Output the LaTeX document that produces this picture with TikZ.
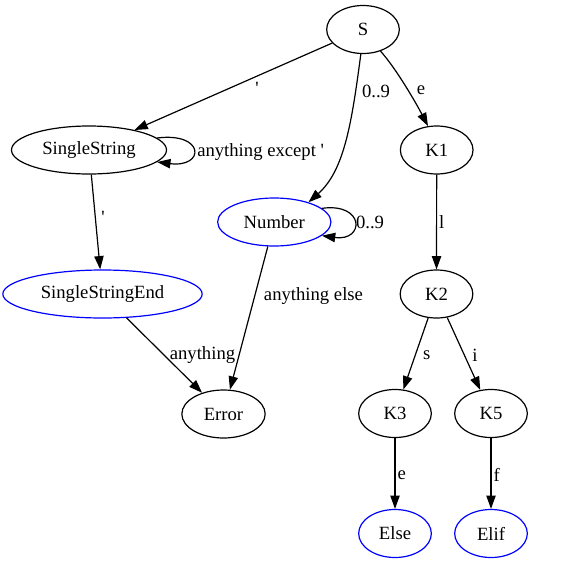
\documentclass[tikz,border=0pt]{standalone}
\usepackage{fontspec}
\setmainfont{Liberation Serif}[Ligatures=TeXOff]
\usetikzlibrary{shapes.geometric,arrows.meta}
\begin{document}
\begin{tikzpicture}[x=0.75pt,y=-0.75pt,
  st/.style={ellipse,draw=black,line width=0.9pt,inner sep=0pt,minimum height=36pt,font=\fontsize{14}{16}\selectfont},
  acc/.style={st,draw=blue},
  lab/.style={inner sep=0pt,font=\fontsize{14}{16}\selectfont},
  edge/.style={draw,line width=0.9pt,-{Triangle[length=10pt,width=7pt]}}]
\useasboundingbox (0,0) rectangle (568,568);
% states
\node[st,minimum width=54.5pt] (S) at (363,29.5) {S};
\node[st,minimum width=116.25pt] (SingleString) at (89,150) {SingleString};
\node[st,minimum width=54.5pt] (K1) at (436.7,150) {K1};
\node[acc,minimum width=85pt] (Number) at (274.3,222) {Number};
\node[acc,minimum width=149.5pt] (SingleStringEnd) at (102.5,294) {SingleStringEnd};
\node[st,minimum width=54.5pt] (K2) at (436.5,294) {K2};
\node[st,minimum width=62.5pt] (Error) at (223.5,414) {Error};
\node[st,minimum width=54.5pt] (K3) at (395,413.5) {K3};
\node[st,minimum width=54.5pt] (K5) at (491,413.5) {K5};
\node[acc,minimum width=54.5pt] (Else) at (395,533.5) {Else};
\node[acc,minimum width=54.5pt] (Elif) at (491,533.5) {Elif};
% transitions
\draw[edge] (S) -- (SingleString);
\draw[edge] (SingleString.10) .. controls +(48,-6) and +(48,6) .. (SingleString.-10);
\draw[edge] (S.265) .. controls (352,120) and (345,170) .. (Number.30);
\draw[edge] (S.-51) .. controls (396.7,69.2) and (416.8,104.4) .. (K1.110);
\draw[edge] (SingleString) -- (SingleStringEnd);
\draw[edge] (Number.16) .. controls +(43,-6) and +(43,6) .. (Number.-16);
\draw[edge] (Number) -- (Error);
\draw[edge] (SingleStringEnd) -- (Error);
\draw[edge] (K1) -- (K2);
\draw[edge] (K2) -- (K3);
\draw[edge] (K2) -- (K5);
\draw[edge] (K3) -- (Else);
\draw[edge] (K5) -- (Elif);
% labels
\node[lab] (l1) at (257,88) {'};
\node[lab,anchor=west] (l2) at (197,152) {anything except '};
\node[lab] (l3) at (376,91) {0..9};
\node[lab] (l4) at (421,90) {e};
\node[lab] (l5) at (103,217) {'};
\node[lab] (l6) at (370,222.5) {0..9};
\node[lab] (l7) at (441.7,221.7) {l};
\node[lab] (l8) at (313.5,296) {anything else};
\node[lab] (l9) at (202.5,355.5) {anything};
\node[lab] (l10) at (426.7,355) {s};
\node[lab] (l11) at (475,355) {i};
\node[lab] (l12) at (401.7,475) {e};
\node[lab] (l13) at (496.7,475) {f};
\end{tikzpicture}
\end{document}
